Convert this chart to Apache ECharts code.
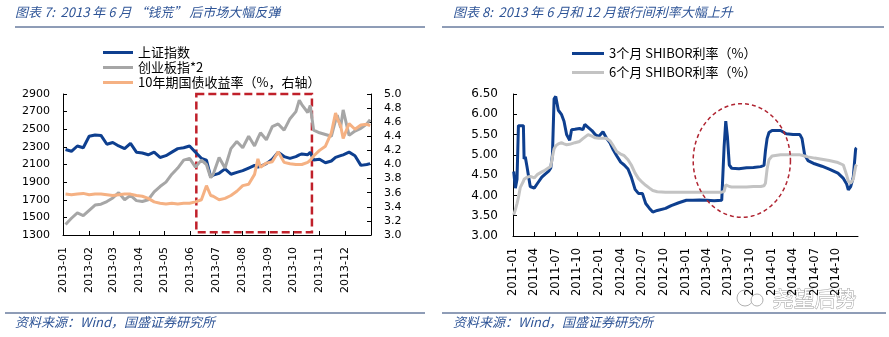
<!DOCTYPE html>
<html>
<head>
<meta charset="utf-8">
<script src="https://cdn.jsdelivr.net/npm/echarts@6/dist/echarts.min.js"></script>
<style>
  html, body { margin: 0; padding: 0; background: #ffffff; }
  #chart { width: 889px; height: 337px; }
</style>
</head>
<body>
<div id="chart"></div>
<script>
// ---- 图表 7: weekly observations, 2013 ----
const marketDates = ['2013-01-04','2013-01-11','2013-01-18','2013-01-25','2013-02-01','2013-02-08','2013-02-15','2013-02-22',
  '2013-03-01','2013-03-08','2013-03-15','2013-03-22','2013-03-29','2013-04-05','2013-04-12','2013-04-19','2013-04-26',
  '2013-05-03','2013-05-10','2013-05-17','2013-05-24','2013-05-31','2013-06-07','2013-06-14','2013-06-20','2013-06-25','2013-06-28',
  '2013-07-05','2013-07-12','2013-07-19','2013-07-26','2013-08-02','2013-08-09','2013-08-16','2013-08-20','2013-08-23','2013-08-30',
  '2013-09-06','2013-09-13','2013-09-20','2013-09-27','2013-10-04','2013-10-08','2013-10-11','2013-10-18','2013-10-21','2013-10-25',
  '2013-11-01','2013-11-08','2013-11-15','2013-11-20','2013-11-22','2013-11-26','2013-11-29',
  '2013-12-06','2013-12-13','2013-12-20','2013-12-27','2013-12-31'];
const shIndex = [2270,2250,2310,2290, 2420,2435,2430,2330, 2350,2310,2280,2340,2240, 2230,2210,2240,2180,
  2200,2240,2280,2290,2310, 2240,2170,2150,1960,1980, 2000,2050,1990,2010, 2030,2060,2090,2070,2080,2110,
  2160,2240,2190,2170, 2190,2210,2220,2210,2240,2150, 2160,2120,2140,2180,2190,2200,2210, 2240,2200,2090,2100,2110];
const chinextX2 = [1420,1490,1550,1520, 1580,1640,1650,1680, 1720,1780,1700,1750,1690, 1680,1700,1790,1850,
  1900,1990,2060,2150,2170, 2070,2150,2100,1950,1990, 2180,2060,2280,2360, 2290,2420,2310,2400,2460,2380,
  2530,2560,2490,2620, 2700,2830,2780,2690,2770,2490, 2460,2440,2420,2600,2660,2520,2720, 2430,2480,2510,2560,2610];
const cgb10y = [3.58,3.57,3.58,3.59, 3.57,3.58,3.58,3.57, 3.56,3.57,3.58,3.58,3.56, 3.55,3.52,3.47,3.45,
  3.44,3.45,3.44,3.45,3.45, 3.47,3.50,3.70,3.56,3.55, 3.50,3.52,3.56,3.62, 3.70,3.72,3.86,4.08,3.96,4.02,
  4.04,4.18,4.03,4.01, 4.00,4.00,4.00,4.03,4.06,4.12, 4.20,4.26,4.45,4.73,4.65,4.55,4.37, 4.58,4.50,4.56,4.57,4.55];
const marketMonthTicks = ['2013-01','2013-02','2013-03','2013-04','2013-05','2013-06','2013-07','2013-08','2013-09','2013-10','2013-11','2013-12'];
const indexTicks = [1300,1500,1700,1900,2100,2300,2500,2700,2900];

// ---- 图表 8: SHIBOR, 2011-2014 ----
const shiborDates = ['2011-01-04','2011-01-11','2011-01-18','2011-01-24','2011-02-01','2011-02-14','2011-02-17','2011-02-22',
  '2011-03-01','2011-03-15','2011-04-01','2011-04-15','2011-05-03','2011-05-16','2011-06-01','2011-06-10','2011-06-17','2011-06-24',
  '2011-07-01','2011-07-12','2011-07-25','2011-08-05','2011-08-16','2011-08-29','2011-09-06','2011-09-20','2011-10-10','2011-10-24',
  '2011-11-01','2011-11-15','2011-12-01','2011-12-15','2011-12-30','2012-01-17','2012-01-31','2012-02-15','2012-03-01','2012-03-15',
  '2012-04-01','2012-04-16','2012-05-02','2012-05-16','2012-06-01','2012-06-15','2012-07-02','2012-07-16','2012-08-01','2012-08-15',
  '2012-09-03','2012-10-08','2012-11-01','2012-12-03','2013-01-04','2013-02-01','2013-03-01','2013-04-01','2013-05-02','2013-06-03',
  '2013-06-07','2013-06-13','2013-06-20','2013-06-27','2013-07-05','2013-07-15','2013-08-15','2013-09-16','2013-10-15','2013-11-15',
  '2013-11-29','2013-12-05','2013-12-12','2013-12-20','2014-01-02','2014-02-07','2014-03-03','2014-04-01','2014-04-30','2014-05-09',
  '2014-05-20','2014-06-03','2014-07-01','2014-08-01','2014-09-01','2014-10-08','2014-10-31','2014-11-14','2014-11-21','2014-12-01',
  '2014-12-12','2014-12-22','2014-12-26'];
const shibor3m = [4.59,4.18,4.40,5.72,5.74,5.72,4.90,4.95, 4.72,4.22,4.18,4.30,4.45,4.52,4.60,4.68,5.00,6.38,
  6.44,6.10,6.00,5.83,5.50,5.36,5.62,5.63,5.65,5.62, 5.75,5.68,5.60,5.50,5.45,5.57,5.42,5.30,5.12,4.98,
  4.82,4.75,4.65,4.45,4.15,4.05,4.05,3.80,3.68,3.59, 3.63,3.68,3.75,3.82,3.88,3.88,3.89,3.88,3.87,3.88,
  3.90,5.20,5.83,5.45,4.75,4.67,4.66,4.68,4.69,4.71, 4.74,5.10,5.40,5.55,5.60,5.60,5.52,5.50,5.50,5.40,
  5.00,4.86,4.78,4.72,4.65,4.55,4.42,4.28,4.14,4.22, 4.45,5.15,5.17];
const shibor6m = [3.52,3.65,3.80,3.95,4.20,4.35,4.40,4.43, 4.45,4.47,4.43,4.52,4.58,4.62,4.68,4.72,4.95,5.15,
  5.22,5.27,5.30,5.27,5.25,5.26,5.29,5.30,5.33,5.40, 5.43,5.50,5.46,5.42,5.41,5.41,5.41,5.35,5.22,5.08,
  5.02,4.98,4.88,4.75,4.55,4.42,4.32,4.25,4.18,4.12, 4.09,4.08,4.08,4.08,4.08,4.08,4.08,4.08,4.08,4.08,
  4.08,4.10,4.26,4.24,4.22,4.21,4.21,4.21,4.22,4.22, 4.24,4.30,4.65,4.88,4.97,5.00,5.00,5.00,5.00,4.99,
  4.97,4.95,4.92,4.89,4.86,4.81,4.75,4.50,4.35,4.30, 4.40,4.72,4.76];
const shiborQuarterTicks = ['2011-01','2011-04','2011-07','2011-10','2012-01','2012-04','2012-07','2012-10',
  '2013-01','2013-04','2013-07','2013-10','2014-01','2014-04','2014-07','2014-10'];

// ---- helpers ----
// dates are placed on a numeric axis as epoch milliseconds
function toTime(s) {
  const p = s.split('-').map(Number);
  return new Date(p[0], p[1] - 1, p[2] || 1).getTime();
}
function pairs(dates, values) { return dates.map((d, i) => [toTime(d), values[i]]); }
function monthLabel(v) {
  const d = new Date(v);
  return d.getFullYear() + '-' + String(d.getMonth() + 1).padStart(2, '0');
}
const DAY = 86400000;

const COLORS = {
  navy: '#0E3F8F', grey: '#A6A6A6', peach: '#F5B183', lightGrey: '#C3C3C3',
  red: '#C0202A', ellipse: '#B02431', title: '#2F5597', rule: '#1F3A6E', axis: '#000000'
};
const AXIS_FONT = 'DejaVu Sans';
const CJK_FONT = '"Noto Sans CJK SC", "Noto Sans", sans-serif';

function dateAxis(gridIndex, min, max, ticks, fontSize) {
  const vals = ticks.map(toTime);
  return {
    type: 'value', gridIndex, min: toTime(min), max: toTime(max), scale: true,
    axisLine: { show: true, onZero: false, lineStyle: { color: COLORS.axis, width: 1 } },
    axisTick: { show: true, inside: true, length: 4, customValues: vals, lineStyle: { color: COLORS.axis } },
    axisLabel: { customValues: vals, formatter: monthLabel, rotate: 90, margin: 12,
      color: '#000', fontFamily: AXIS_FONT, fontSize },
    splitLine: { show: false }
  };
}
function valueAxis(gridIndex, extra) {
  return Object.assign({
    type: 'value', gridIndex,
    axisLine: { show: true, lineStyle: { color: COLORS.axis, width: 1 } },
    axisTick: { show: true, inside: true, length: 4, lineStyle: { color: COLORS.axis } },
    splitLine: { show: false }
  }, extra);
}

// dashed ellipse drawn in data space of the SHIBOR grid
const ellipseSpec = { center: '2013-08-27', value: 4.86, halfDays: 206, halfValue: 1.40 };

const chart = echarts.init(document.getElementById('chart'), null, { renderer: 'canvas' });
chart.setOption({
  animation: false,
  backgroundColor: '#ffffff',
  grid: [
    { left: 63, top: 94, width: 308, height: 141 },
    { left: 513, top: 94, width: 345, height: 142 }
  ],
  legend: [
    {
      data: ['上证指数', '创业板指*2', '10年期国债收益率（%，右轴）'],
      orient: 'vertical', left: 103, top: 45, padding: 0, icon: 'rect', itemWidth: 30, itemHeight: 3, itemGap: 0,
      selectedMode: false,
      textStyle: { fontFamily: CJK_FONT, fontSize: 13, lineHeight: 15, color: '#000' }
    },
    {
      data: ['3个月 SHIBOR利率（%）', '6个月 SHIBOR利率（%）'],
      orient: 'vertical', left: 572, top: 44, padding: 0, icon: 'rect', itemWidth: 32, itemHeight: 3, itemGap: 0,
      selectedMode: false,
      textStyle: { fontFamily: CJK_FONT, fontSize: 13, lineHeight: 19, color: '#000' }
    }
  ],
  xAxis: [
    dateAxis(0, '2013-01-01', '2014-01-01', marketMonthTicks, 11),
    dateAxis(1, '2011-01-01', '2015-01-01', shiborQuarterTicks, 11.5)
  ],
  yAxis: [
    valueAxis(0, {
      min: 1300, max: 2900,
      axisTick: { show: true, inside: true, length: 4, customValues: indexTicks, lineStyle: { color: COLORS.axis } },
      axisLabel: { customValues: indexTicks, margin: 13, color: '#000', fontFamily: AXIS_FONT, fontSize: 11,
        formatter: v => String(v) }
    }),
    valueAxis(0, {
      position: 'right', min: 3, max: 5, interval: 0.2,
      axisLabel: { margin: 13, color: '#000', fontFamily: AXIS_FONT, fontSize: 11, formatter: v => v.toFixed(1) }
    }),
    valueAxis(1, {
      min: 3, max: 6.5, interval: 0.5,
      axisLabel: { margin: 15, color: '#000', fontFamily: AXIS_FONT, fontSize: 12, formatter: v => v.toFixed(2) }
    })
  ],
  series: [
    {
      name: '上证指数', type: 'line', xAxisIndex: 0, yAxisIndex: 0, data: pairs(marketDates, shIndex),
      symbol: 'none', lineStyle: { width: 3, color: COLORS.navy }, itemStyle: { color: COLORS.navy }, z: 2
    },
    {
      name: '创业板指*2', type: 'line', xAxisIndex: 0, yAxisIndex: 0, data: pairs(marketDates, chinextX2),
      symbol: 'none', lineStyle: { width: 3, color: COLORS.grey }, itemStyle: { color: COLORS.grey }, z: 3
    },
    {
      name: '10年期国债收益率（%，右轴）', type: 'line', xAxisIndex: 0, yAxisIndex: 1, data: pairs(marketDates, cgb10y),
      symbol: 'none', lineStyle: { width: 3, color: COLORS.peach }, itemStyle: { color: COLORS.peach }, z: 4,
      // dashed frame around the June–October period, in right-axis units
      markArea: {
        silent: true,
        itemStyle: { color: 'rgba(0,0,0,0)', borderColor: COLORS.red, borderWidth: 2.5, borderType: [8, 4] },
        data: [[{ xAxis: toTime('2013-06-08'), yAxis: 5.0 }, { xAxis: toTime('2013-10-23'), yAxis: 3.04 }]]
      }
    },
    {
      name: '3个月 SHIBOR利率（%）', type: 'line', xAxisIndex: 1, yAxisIndex: 2, data: pairs(shiborDates, shibor3m),
      symbol: 'none', lineStyle: { width: 3, color: COLORS.navy }, itemStyle: { color: COLORS.navy }, z: 2
    },
    {
      name: '6个月 SHIBOR利率（%）', type: 'line', xAxisIndex: 1, yAxisIndex: 2, data: pairs(shiborDates, shibor6m),
      symbol: 'none', lineStyle: { width: 3, color: COLORS.lightGrey }, itemStyle: { color: COLORS.lightGrey }, z: 2
    },
    {
      type: 'custom', xAxisIndex: 1, yAxisIndex: 2, silent: true, z: 5,
      data: [[toTime(ellipseSpec.center), ellipseSpec.value]],
      renderItem: function (params, api) {
        const t = api.value(0), v = api.value(1);
        const c = api.coord([t, v]);
        const e = api.coord([t + ellipseSpec.halfDays * DAY, v + ellipseSpec.halfValue]);
        const rx = e[0] - c[0], ry = c[1] - e[1];
        const pts = [];
        for (let k = 0; k <= 96; k++) {
          const a = k / 96 * Math.PI * 2;
          pts.push([c[0] + rx * Math.cos(a), c[1] + ry * Math.sin(a)]);
        }
        return { type: 'polyline', shape: { points: pts },
          style: { stroke: COLORS.ellipse, lineWidth: 1.5, lineDash: [4, 3], fill: null } };
      }
    }
  ],
  graphic: [
    { type: 'text', left: 15, top: 6, style: { text: '图表 7:  2013 年 6 月 “钱荒” 后市场大幅反弹',
      fontFamily: CJK_FONT, fontSize: 13, fontStyle: 'italic', fill: COLORS.title } },
    { type: 'line', shape: { x1: 15, y1: 27, x2: 425, y2: 27 }, style: { stroke: COLORS.rule, lineWidth: 1 } },
    { type: 'text', left: 453, top: 6, style: { text: '图表 8:  2013 年 6 月和 12 月银行间利率大幅上升',
      fontFamily: CJK_FONT, fontSize: 13, fontStyle: 'italic', fill: COLORS.title } },
    { type: 'line', shape: { x1: 442, y1: 27, x2: 884, y2: 27 }, style: { stroke: COLORS.rule, lineWidth: 1 } },
    { type: 'line', shape: { x1: 5, y1: 313, x2: 425, y2: 313 }, style: { stroke: COLORS.rule, lineWidth: 1 } },
    { type: 'line', shape: { x1: 442, y1: 313, x2: 886, y2: 313 }, style: { stroke: COLORS.rule, lineWidth: 1 } },
    { type: 'text', left: 15, top: 316, style: { text: '资料来源：Wind，国盛证券研究所',
      fontFamily: CJK_FONT, fontSize: 13, fontStyle: 'italic', fill: COLORS.title } },
    { type: 'text', left: 453, top: 316, style: { text: '资料来源：Wind，国盛证券研究所',
      fontFamily: CJK_FONT, fontSize: 13, fontStyle: 'italic', fill: COLORS.title } },
    { type: 'circle', shape: { cx: 745, cy: 298, r: 8 }, style: { stroke: '#B0B0B0', fill: null, lineWidth: 1 } },
    { type: 'circle', shape: { cx: 757, cy: 300, r: 6 }, style: { stroke: '#B0B0B0', fill: '#fff', lineWidth: 1 } },
    { type: 'text', left: 772, top: 287, style: { text: '尧望后势',
      fontFamily: CJK_FONT, fontSize: 21, fill: '#ffffff', stroke: '#A0A0A0', lineWidth: 1 } }
  ]
});
</script>
</body>
</html>
